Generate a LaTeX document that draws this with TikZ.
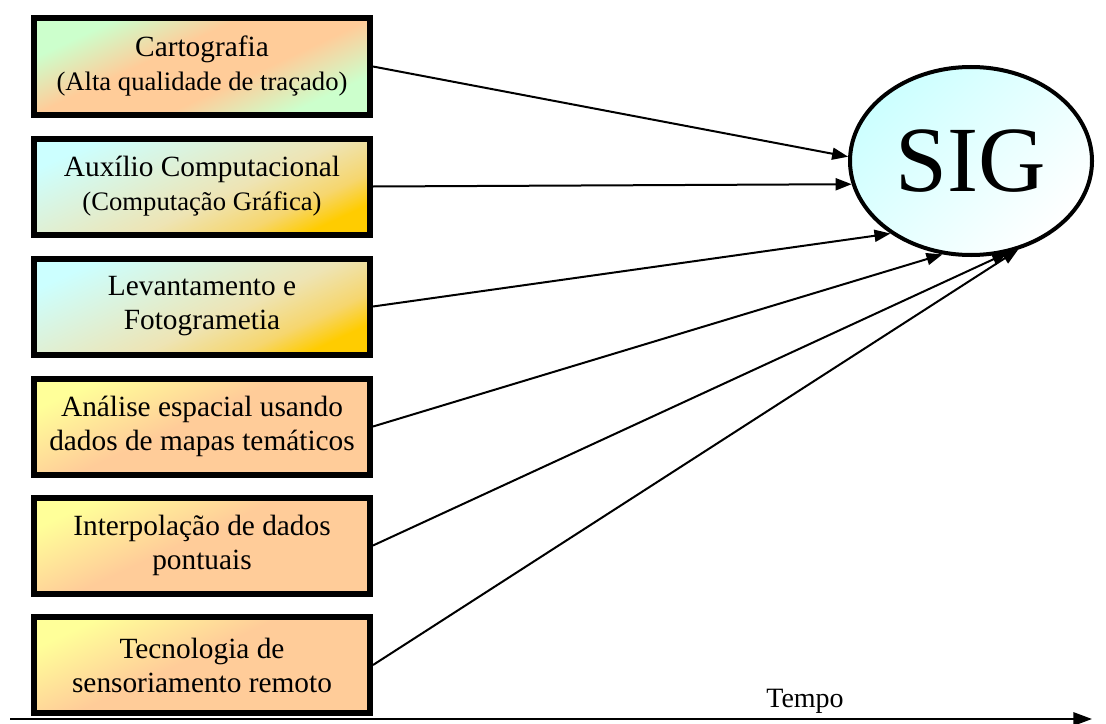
\documentclass[tikz,border=0pt]{standalone}
\usepackage{fontspec}
\setmainfont{Liberation Serif}
\usetikzlibrary{arrows.meta,shapes.geometric}
\definecolor{cgreen}{HTML}{CCFFCC}
\definecolor{cpeach}{HTML}{FFCC99}
\definecolor{ccyan}{HTML}{CCFFFF}
\definecolor{cgold}{HTML}{FFCC00}
\definecolor{cyell}{HTML}{FFFF99}
\definecolor{ccream}{RGB}{238,228,180}
\definecolor{cwarm}{RGB}{246,214,110}
\pgfdeclarehorizontalshading{greenstripe}{100bp}{color(0bp)=(cgreen); color(27bp)=(cgreen); color(42bp)=(cpeach); color(58bp)=(cpeach); color(73bp)=(cgreen); color(100bp)=(cgreen)}
\pgfdeclarehorizontalshading{cyangold}{100bp}{color(0bp)=(ccyan); color(25bp)=(ccyan); color(55bp)=(ccream); color(67bp)=(cwarm); color(75bp)=(cgold); color(100bp)=(cgold)}
\pgfdeclarehorizontalshading{yellpeach}{100bp}{color(0bp)=(cyell); color(25bp)=(cyell); color(47bp)=(cpeach); color(100bp)=(cpeach)}
\tikzset{
  srcbox/.style={draw=black, line width=4.5pt, rectangle, minimum width=252pt, minimum height=72pt,
    inner sep=0pt, align=center, font=\fontsize{22}{25.5}\selectfont},
  greenbox/.style={shading=greenstripe, shading angle=-65},
  cyanbox/.style={shading=cyangold, shading angle=-65},
  yellbox/.style={shading=yellpeach, shading angle=-65},
  conn/.style={line width=1.5pt, -{Triangle[length=12pt,width=9pt]}}
}
\newcommand{\subline}[1]{{\fontsize{20}{25.5}\selectfont #1}}
\begin{document}
\begin{tikzpicture}[x=0.75pt,y=-0.75pt]
\useasboundingbox (0,0) rectangle (1106,724);
\node[srcbox,greenbox] (b1) at (202,66.5) {Cartografia\\\subline{(Alta qualidade de traçado)}};
\node[srcbox,cyanbox] (b2) at (202,186.5) {Auxílio Computacional\\\subline{(Computação Gráfica)}};
\node[srcbox,cyanbox] (b3) at (202,306.5) {Levantamento e\\Fotogrametia};
\node[srcbox,yellbox] (b4) at (202,426.5) {Análise espacial usando\\dados de mapas temáticos};
\node[srcbox,yellbox] (b5) at (202,545.5) {Interpolação de dados\\pontuais};
\node[srcbox,yellbox] (b6) at (202,665) {Tecnologia de\\sensoriamento remoto};
\node[draw=black, line width=3pt, ellipse, minimum width=181.5pt, minimum height=141pt, inner sep=0pt,
  top color=ccyan, bottom color=white, shading angle=45,
  font=\fontsize{70}{70}\selectfont] (sig) at (971,161) {SIG};
\draw[conn] (b1.east) -- (sig.178.6);
\draw[conn] (b2.east) -- (sig.191);
\draw[conn] (b3.east) -- (sig.222.3);
\draw[conn] (b4.east) -- (sig.253.4);
\draw[conn] (b5.east) -- (sig.292);
\draw[conn] (b6.east) -- (sig.298.5);
\coordinate (t0) at (10,719);
\coordinate (t1) at (1092,719);
\draw[line width=1.5pt, -{Triangle[length=14pt,width=10pt]}] (t0) -- (t1);
\node[font=\fontsize{21}{24}\selectfont] (tempo) at (805,701) {Tempo};
\end{tikzpicture}
\end{document}
